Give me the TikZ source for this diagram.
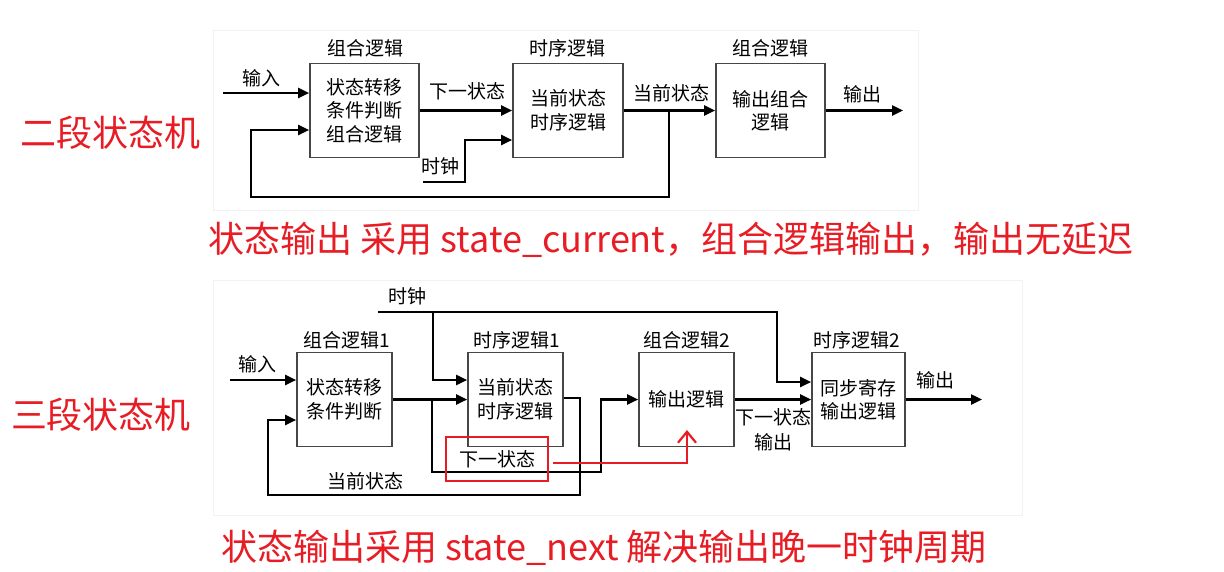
\documentclass[tikz,border=0pt]{standalone}
\usepackage{fontspec}
\setmainfont{Noto Sans CJK SC}
\usetikzlibrary{arrows.meta}
\definecolor{myred}{RGB}{232,28,36}
\definecolor{boxgray}{RGB}{70,70,70}
\tikzset{
  blk/.style={draw=boxgray,line width=1.6pt,minimum width=#1,minimum height=94pt,inner sep=0pt,align=center,font=\fontsize{19}{23.5}\selectfont},
  blk/.default=95pt,
  lbl/.style={inner sep=0pt,font=\fontsize{19}{24}\selectfont,align=center},
  wire/.style={line width=2.4pt,-{Triangle[length=11pt,width=10pt]}},
  captxt/.style={inner sep=0pt,text=myred,font=\fontsize{36}{42}\selectfont},
  redwire/.style={draw=myred,line width=2.2pt},
  panel/.style={draw=gray!10,line width=0.8pt,fill=white}
}
\begin{document}
\begin{tikzpicture}[x=1pt,y=-1pt]
\useasboundingbox (0,0) rectangle (1224,571);
\fill[white] (0,0) rectangle (1224,571);
\draw[panel] (213,30) rectangle (918,210);
\draw[panel] (213,280) rectangle (1022,515);

% ---------- two-stage ----------
\node[blk=109pt] (b1) at (364.5,110.5) {状态转移\\条件判断\\组合逻辑};
\node[blk=110pt] (b2) at (568,110.5) {当前状态\\时序逻辑};
\node[blk=109pt] (b3) at (770.5,110.5) {输出组合\\逻辑};
\node[lbl] (t1) at (365,48) {组合逻辑};
\node[lbl] (t2) at (567,48) {时序逻辑};
\node[lbl] (t3) at (770,48) {组合逻辑};

\coordinate (in1) at (223,93);
\draw[wire] (in1) -- (b1.west |- in1);
\node[lbl] (lin1) at (261,78) {输入};

\draw[wire] (b1.east) -- (b2.west);
\node[lbl] (lns1) at (467,91) {下一状态};

\coordinate (clk1) at (423,182);
\draw[wire] (clk1) -- (465,182) -- (465,140) -- (b2.west |- 0,140);
\node[lbl] (lclk1) at (440,166) {时钟};

\draw[wire] (b2.east) -- (b3.west);
\node[lbl] (lcs1) at (671,93) {当前状态};

\coordinate (fb1) at (669,110.5);
\draw[wire] (fb1) -- (669,197) -- (251,197) -- (251,130) -- (b1.west |- 0,130);

\coordinate (out1) at (903,110.5);
\draw[wire] (b3.east) -- (out1);
\node[lbl] (lout1) at (862,94) {输出};

\node[captxt] (cap1) at (110,133) {二段状态机};
\node[captxt] (cap2) at (671,240) {状态输出 采用 state\_current，组合逻辑输出，输出无延迟};

% ---------- three-stage ----------
\node[blk] (c1) at (344.5,399.5) {状态转移\\条件判断};
\node[blk] (s1) at (515.5,399.5) {当前状态\\时序逻辑};
\node[blk] (c2) at (686.5,399.5) {输出逻辑};
\node[blk=93pt] (s2) at (858.5,399.5) {同步寄存\\输出逻辑};
\node[lbl] (u1) at (347,340) {组合逻辑1};
\node[lbl] (u2) at (517,340) {时序逻辑1};
\node[lbl] (u3) at (687,340) {组合逻辑2};
\node[lbl] (u4) at (857,340) {时序逻辑2};

\coordinate (clk2) at (378,312);
\node[lbl] (lclk2) at (407,296) {时钟};
\draw[wire] (clk2) -- (777,312) -- (777,382) -- (s2.west |- 0,382);
\draw[wire] (433,312) -- (433,380) -- (s1.west |- 0,380);

\coordinate (in2) at (230,380);
\draw[wire] (in2) -- (c1.west |- in2);
\node[lbl] (lin2) at (257,364) {输入};

\draw[wire] (c1.east) -- (s1.west);
\draw[wire] (432,399.5) -- (432,472) -- (601,472) -- (601,399.5) -- (c2.west);

\draw[wire] (s1.east |- 0,398) -- (580,398) -- (580,495) -- (268,495) -- (268,420) -- (c1.west |- 0,420);
\node[lbl] (lcs2) at (365,481) {当前状态};

\draw[wire] (c2.east) -- (s2.west);
\node[lbl,font=\fontsize{19}{25}\selectfont] (lnso) at (773,430) {下一状态\\输出};

\coordinate (out2) at (982,399.5);
\draw[wire] (s2.east) -- (out2);
\node[lbl] (lout2) at (935,380) {输出};

\node[draw=myred,line width=2pt,minimum width=102pt,minimum height=44pt,inner sep=0pt,font=\fontsize{19}{23}\selectfont] (nsbox) at (497,459) {下一状态};
\coordinate (rtip) at (687,430);
\draw[redwire,-{Straight Barb[length=11pt,width=18pt,line width=2.2pt]}] ([xshift=4pt,yshift=-4pt]nsbox.east) -- (687,463) -- (rtip);

\node[captxt] (cap3) at (101,415) {三段状态机};
\node[captxt] (cap4) at (604,548) {状态输出采用 state\_next 解决输出晚一时钟周期};
\end{tikzpicture}
\end{document}
